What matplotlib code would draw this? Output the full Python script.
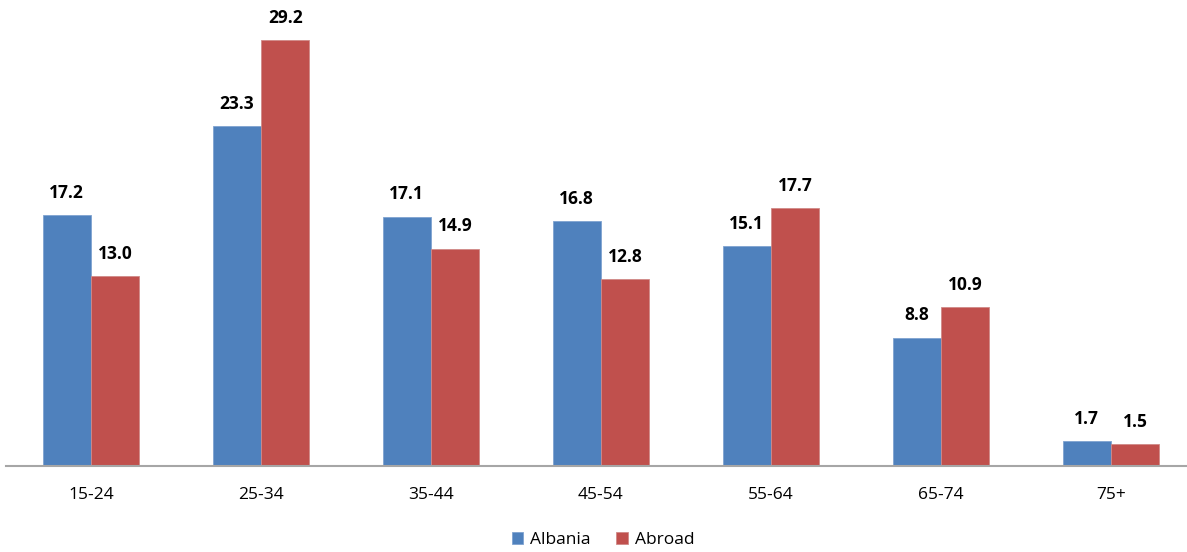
import numpy as np
import matplotlib.pyplot as plt

plt.rcParams['font.family'] = ['Open Sans', 'DejaVu Sans']

groepen = ['15-24', '25-34', '35-44', '45-54', '55-64', '65-74', '75+']
albania = [17.2, 23.3, 17.1, 16.8, 15.1, 8.8, 1.7]
abroad = [13.0, 29.2, 14.9, 12.8, 17.7, 10.9, 1.5]

fig = plt.figure(figsize=(11.87, 5.52), dpi=100)
ax = fig.add_axes([6/1187, 1-466/552, 1-6/1187, (466-10)/552])

x = np.arange(len(groepen))
w = 0.285
b1 = ax.bar(x - w/2, albania, w, color='#4F81BD', edgecolor='#7FA3D0', linewidth=0.6, label='Albania')
b2 = ax.bar(x + w/2, abroad, w, color='#C0504D', edgecolor='#D08A88', linewidth=0.6, label='Abroad')

# labels boven de balken
for bars, vals in [(b1, albania), (b2, abroad)]:
	for r, v in zip(bars, vals):
		ax.text(r.get_x() + r.get_width()/2, v + 0.9, '%.1f' % v, ha='center', va='bottom',
				fontsize=12.5, fontweight='bold')

ax.set_xlim(-0.5, -0.5 + (1187-6)/170)
ax.set_ylim(0, (466-10)/14.59)
ax.set_xticks(x)
ax.set_xticklabels(groepen, fontsize=12.5)
ax.tick_params(axis='x', length=0, pad=15)
ax.set_yticks([])
for s in ['top', 'right', 'left']:
	ax.spines[s].set_visible(False)
ax.spines['bottom'].set_color('#A6A6A6')
ax.spines['bottom'].set_linewidth(1.5)

fig.legend(loc='center', bbox_to_anchor=(603/1187, 1-540/552), ncol=2, frameon=False,
		   fontsize=12.5, handlelength=0.65, handleheight=0.65, handletextpad=0.4, columnspacing=1.5)

plt.savefig('out.png', dpi=100)
